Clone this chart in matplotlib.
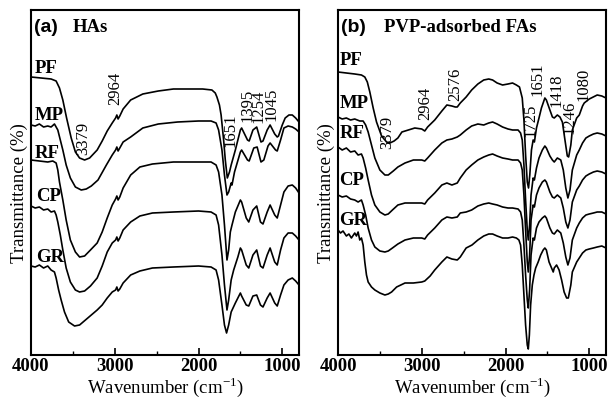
import numpy as np
import matplotlib
matplotlib.use('Agg')
import matplotlib.pyplot as plt
from matplotlib.ticker import FixedLocator

plt.rcParams['font.family'] = ['Liberation Serif', 'DejaVu Serif']
plt.rcParams['mathtext.fontset'] = 'custom'
plt.rcParams['mathtext.rm'] = 'Liberation Serif'

# spectra: wavenumber (cm-1) and vertical position
# (offset scale, 10 = top of frame, 355 = bottom, so larger = lower transmittance)

# ---- (a) HAs ----
ha_pf_w = [4000, 3880, 3760, 3700, 3660, 3620, 3575, 3520, 3470, 3420, 3360, 3300, 3210, 3150, 3090, 3030, 2990, 2975, 2960, 2940, 2900, 2810, 2665, 2480, 2300, 2120, 1950, 1840, 1800, 1780, 1750, 1730, 1700, 1680, 1656, 1630, 1610, 1560, 1500, 1485, 1415, 1395, 1350, 1305, 1254, 1230, 1180, 1145, 1090, 1060, 1045, 1000, 965, 920, 880, 840, 800]
ha_pf = [77, 78, 79, 81, 88, 100, 118, 138, 152, 158, 160, 158, 150, 141, 131, 123, 118, 115, 119, 116, 109, 100, 94, 91, 89, 89, 89, 90, 93, 97, 105, 115, 140, 160, 178, 172, 165, 150, 130, 128, 140, 141, 130, 127, 142, 141, 130, 125, 134, 137, 136, 125, 118, 115, 115, 118, 122]

ha_mp_w = [4000, 3950, 3900, 3850, 3800, 3760, 3720, 3700, 3680, 3650, 3620, 3580, 3530, 3470, 3400, 3340, 3280, 3200, 3100, 3030, 2990, 2975, 2960, 2940, 2900, 2810, 2665, 2480, 2250, 2000, 1850, 1790, 1760, 1720, 1690, 1660, 1640, 1610, 1600, 1570, 1500, 1485, 1415, 1395, 1340, 1300, 1254, 1220, 1170, 1145, 1080, 1060, 1020, 980, 930, 880, 840, 800]
ha_mp = [125, 126, 124, 127, 126, 127, 124, 127, 130, 140, 150, 165, 178, 187, 190, 189, 186, 180, 165, 155, 150, 147, 151, 148, 142, 137, 128, 124, 122, 121, 121, 123, 130, 150, 175, 195, 192, 183, 185, 172, 152, 150, 160, 161, 148, 147, 162, 160, 146, 143, 150, 151, 140, 128, 126, 127, 129, 132]

ha_rf_w = [4000, 3900, 3800, 3740, 3700, 3680, 3660, 3620, 3580, 3530, 3470, 3420, 3360, 3290, 3210, 3150, 3090, 3030, 2990, 2975, 2960, 2940, 2900, 2810, 2700, 2550, 2300, 2000, 1850, 1790, 1760, 1720, 1690, 1660, 1640, 1620, 1600, 1560, 1500, 1485, 1430, 1400, 1350, 1305, 1260, 1230, 1180, 1145, 1090, 1060, 1020, 980, 930, 880, 840, 800]
ha_rf = [160, 161, 162, 161, 163, 170, 182, 200, 220, 240, 252, 257, 256, 250, 243, 232, 218, 205, 199, 196, 200, 197, 188, 175, 167, 164, 162, 162, 162, 165, 172, 195, 225, 260, 250, 232, 225, 212, 200, 202, 218, 222, 210, 206, 222, 224, 212, 205, 215, 218, 205, 192, 186, 185, 188, 193]

ha_cp_w = [4000, 3950, 3900, 3850, 3800, 3760, 3720, 3700, 3680, 3650, 3620, 3580, 3530, 3470, 3420, 3360, 3290, 3210, 3150, 3090, 3030, 2990, 2975, 2960, 2940, 2900, 2810, 2700, 2550, 2300, 2000, 1850, 1790, 1760, 1720, 1690, 1660, 1640, 1610, 1580, 1530, 1500, 1485, 1430, 1400, 1350, 1305, 1260, 1230, 1180, 1145, 1090, 1060, 1020, 980, 930, 880, 840, 800]
ha_cp = [206, 208, 207, 210, 209, 212, 211, 215, 222, 235, 250, 268, 282, 290, 292, 291, 286, 278, 266, 252, 243, 240, 237, 241, 238, 230, 222, 216, 213, 212, 211, 212, 215, 225, 255, 285, 310, 300, 280, 270, 257, 248, 250, 265, 268, 255, 250, 266, 268, 255, 248, 262, 265, 250, 238, 233, 233, 236, 240]

ha_gr_w = [4000, 3950, 3900, 3850, 3800, 3760, 3720, 3700, 3670, 3640, 3600, 3550, 3480, 3420, 3350, 3280, 3210, 3150, 3090, 3030, 2990, 2975, 2960, 2940, 2900, 2810, 2700, 2550, 2300, 2000, 1850, 1790, 1760, 1720, 1690, 1665, 1640, 1610, 1560, 1500, 1485, 1430, 1400, 1350, 1305, 1260, 1230, 1180, 1145, 1090, 1060, 1020, 980, 930, 880, 840, 800]
ha_gr = [266, 267, 265, 268, 266, 270, 272, 278, 290, 300, 312, 322, 326, 325, 320, 315, 310, 305, 298, 292, 290, 287, 291, 289, 283, 275, 271, 268, 267, 266, 267, 270, 280, 305, 325, 333, 325, 312, 303, 293, 296, 305, 306, 296, 295, 305, 307, 298, 293, 303, 306, 295, 285, 280, 278, 281, 285]

# ---- (b) PVP-adsorbed FAs ----
fa_pf_w = [4000, 3900, 3800, 3720, 3680, 3650, 3620, 3580, 3540, 3480, 3420, 3380, 3330, 3285, 3237, 3160, 3083, 3000, 2964, 2930, 2845, 2760, 2700, 2640, 2600, 2576, 2540, 2470, 2404, 2330, 2260, 2200, 2154, 2100, 2035, 1970, 1916, 1870, 1833, 1800, 1780, 1760, 1740, 1725, 1710, 1690, 1670, 1655, 1630, 1600, 1571, 1530, 1512, 1470, 1440, 1418, 1381, 1350, 1321, 1290, 1262, 1246, 1220, 1202, 1150, 1119, 1080, 1060, 1000, 976, 905, 850, 800]
fa_pf = [72, 73, 74, 75, 77, 82, 92, 108, 122, 136, 142, 143, 141, 138, 132, 130, 128, 129, 131, 127, 120, 111, 105, 106, 107, 107, 103, 97, 90, 84, 80, 79, 80, 83, 85, 84, 83, 85, 87, 98, 120, 155, 182, 188, 175, 150, 140, 142, 128, 118, 108, 98, 100, 110, 117, 118, 115, 117, 122, 140, 156, 157, 145, 130, 118, 115, 106, 103, 99, 98, 95, 96, 98]

fa_mp_w = [4000, 3950, 3900, 3850, 3800, 3740, 3700, 3670, 3640, 3600, 3560, 3500, 3440, 3400, 3340, 3285, 3200, 3100, 3000, 2964, 2930, 2845, 2760, 2700, 2640, 2576, 2540, 2470, 2404, 2330, 2260, 2200, 2154, 2100, 2035, 1970, 1916, 1850, 1820, 1800, 1780, 1760, 1740, 1728, 1712, 1695, 1670, 1655, 1630, 1600, 1560, 1530, 1512, 1470, 1440, 1418, 1381, 1340, 1310, 1280, 1255, 1230, 1202, 1150, 1119, 1080, 1040, 1000, 950, 905, 850, 800]
fa_mp = [117, 119, 118, 120, 119, 121, 121, 125, 132, 145, 158, 170, 175, 175, 171, 167, 163, 160, 160, 161, 158, 150, 143, 140, 139, 137, 135, 130, 126, 124, 125, 123, 122, 124, 127, 129, 130, 130, 133, 140, 165, 200, 230, 240, 225, 195, 178, 180, 168, 158, 150, 146, 148, 156, 160, 162, 158, 160, 170, 188, 198, 190, 170, 155, 150, 143, 138, 136, 134, 133, 134, 136]

fa_rf_w = [4000, 3950, 3900, 3850, 3800, 3760, 3720, 3700, 3670, 3640, 3600, 3560, 3500, 3440, 3400, 3350, 3285, 3200, 3100, 3000, 2964, 2930, 2845, 2760, 2700, 2640, 2576, 2540, 2470, 2404, 2330, 2260, 2200, 2154, 2100, 2035, 1970, 1916, 1850, 1820, 1800, 1780, 1760, 1740, 1728, 1712, 1695, 1670, 1655, 1630, 1600, 1560, 1530, 1512, 1470, 1440, 1418, 1381, 1340, 1310, 1280, 1255, 1230, 1202, 1150, 1119, 1080, 1040, 1000, 950, 905, 850, 800]
fa_rf = [147, 150, 148, 152, 151, 155, 154, 158, 168, 180, 195, 205, 212, 215, 214, 210, 205, 203, 203, 203, 204, 200, 193, 185, 183, 185, 183, 178, 170, 165, 160, 157, 155, 154, 156, 158, 159, 160, 160, 163, 170, 195, 230, 262, 272, 255, 220, 205, 207, 195, 188, 182, 180, 182, 192, 197, 198, 195, 198, 208, 222, 228, 220, 202, 190, 186, 180, 176, 174, 172, 171, 172, 174]

fa_cp_w = [4000, 3950, 3900, 3850, 3800, 3760, 3720, 3700, 3670, 3640, 3600, 3560, 3500, 3440, 3400, 3350, 3285, 3200, 3100, 3000, 2964, 2930, 2845, 2760, 2700, 2640, 2576, 2540, 2470, 2404, 2330, 2260, 2200, 2154, 2100, 2035, 1970, 1916, 1850, 1820, 1800, 1780, 1760, 1740, 1728, 1712, 1695, 1670, 1655, 1630, 1600, 1560, 1530, 1512, 1470, 1440, 1418, 1381, 1340, 1310, 1280, 1255, 1230, 1202, 1150, 1119, 1080, 1040, 1000, 950, 905, 850, 800]
fa_cp = [195, 197, 196, 199, 200, 202, 200, 205, 215, 228, 240, 247, 251, 252, 251, 248, 244, 240, 238, 238, 239, 235, 228, 220, 217, 218, 217, 213, 212, 210, 206, 204, 203, 204, 205, 207, 208, 208, 209, 212, 220, 245, 275, 300, 308, 290, 255, 238, 240, 228, 222, 218, 216, 218, 228, 233, 234, 230, 233, 243, 257, 265, 258, 240, 228, 223, 218, 215, 214, 213, 212, 212, 214]

fa_gr_w = [4000, 3970, 3940, 3900, 3870, 3840, 3800, 3780, 3760, 3740, 3720, 3700, 3680, 3660, 3640, 3600, 3560, 3500, 3440, 3400, 3360, 3300, 3250, 3200, 3100, 3000, 2964, 2900, 2845, 2760, 2700, 2640, 2576, 2540, 2470, 2400, 2330, 2260, 2200, 2154, 2100, 2035, 1970, 1916, 1870, 1840, 1820, 1800, 1780, 1760, 1740, 1728, 1715, 1700, 1680, 1660, 1640, 1610, 1580, 1550, 1530, 1512, 1480, 1450, 1430, 1418, 1390, 1360, 1330, 1300, 1270, 1250, 1220, 1202, 1150, 1119, 1080, 1040, 1000, 950, 905, 850, 800]
fa_gr = [230, 233, 231, 236, 234, 238, 233, 236, 232, 240, 238, 245, 262, 275, 282, 287, 290, 293, 295, 294, 292, 287, 285, 283, 283, 282, 281, 276, 270, 262, 257, 259, 260, 257, 248, 245, 240, 236, 234, 234, 236, 238, 238, 237, 238, 240, 245, 265, 295, 325, 345, 349, 335, 305, 285, 275, 268, 262, 255, 250, 248, 250, 262, 268, 272, 268, 265, 270, 280, 292, 298, 298, 285, 272, 262, 258, 253, 250, 249, 248, 247, 246, 248]

names = ['PF', 'MP', 'RF', 'CP', 'GR']
ha_series = [(ha_pf_w, ha_pf), (ha_mp_w, ha_mp), (ha_rf_w, ha_rf), (ha_cp_w, ha_cp), (ha_gr_w, ha_gr)]
fa_series = [(fa_pf_w, fa_pf), (fa_mp_w, fa_mp), (fa_rf_w, fa_rf), (fa_cp_w, fa_cp), (fa_gr_w, fa_gr)]

# sample label positions (wavenumber, level)
ha_name_pos = [(3960, 68), (3960, 115), (3960, 153), (3940, 196), (3940, 257)]
fa_name_pos = [(3985, 60), (3985, 103), (3985, 133), (3985, 180), (3985, 220)]

# peak annotations (text, wavenumber, level)
ha_peaks = [('3379', 3381, 138), ('2964', 2993, 88), ('1651', 1620, 130),
            ('1395', 1413, 105), ('1254', 1280, 106), ('1045', 1134, 104)]
fa_peaks = [('3379', 3410, 132), ('2964', 2964, 103), ('2576', 2595, 84),
            ('1725', 1702, 120), ('1651', 1619, 79), ('1418', 1393, 90),
            ('1246', 1238, 117), ('1080', 1071, 84)]

fig = plt.figure(figsize=(6.08, 3.99), dpi=100)
ax1 = fig.add_axes([31/608, 44/399, 268/608, 345/399])
ax2 = fig.add_axes([338/608, 44/399, 268/608, 345/399])


def draw_panel(ax, series, name_pos, peaks, tag, title, title_x):
    for (w, v) in series:
        ax.plot(w, v, color='black', lw=1.2)
    ax.set_xlim(4000, 800)
    ax.set_ylim(355, 10)
    ax.xaxis.set_major_locator(FixedLocator([4000, 3000, 2000, 1000]))
    ax.xaxis.set_minor_locator(FixedLocator([3500, 2500, 1500]))
    ax.tick_params(axis='x', which='major', direction='in', length=5, width=1.2, pad=2,
                   labelsize=13.5)
    ax.tick_params(axis='x', which='minor', direction='in', length=3, width=1.0)
    ax.set_yticks([])
    for lab in ax.get_xticklabels():
        lab.set_fontweight('bold')
    for sp in ax.spines.values():
        sp.set_linewidth(1.5)
    ax.set_xlabel('Wavenumber (cm$^{-1}$)', fontsize=13.5, labelpad=0)
    ax.set_ylabel('Transmittance (%)', fontsize=13.5, labelpad=3)
    ax.yaxis.set_label_coords(-0.01, 0.47)
    for nm, (x, y) in zip(names, name_pos):
        ax.text(x, y, nm, fontsize=13.5, fontweight='bold', ha='left', va='center')
    for txt, x, y in peaks:
        ax.text(x, y, txt, fontsize=12, rotation=90, ha='center', va='center')
    ax.text(0.012, 0.95, tag, transform=ax.transAxes, fontsize=14, fontweight='bold',
            family='Liberation Sans', ha='left', va='center')
    ax.text(title_x, 0.95, title, transform=ax.transAxes, fontsize=13.5, fontweight='bold',
            ha='left', va='center')


draw_panel(ax1, ha_series, ha_name_pos, ha_peaks, '(a)', 'HAs', 0.157)
draw_panel(ax2, fa_series, fa_name_pos, fa_peaks, '(b)', 'PVP-adsorbed FAs', 0.172)

fig.savefig('out.png', dpi=100)
